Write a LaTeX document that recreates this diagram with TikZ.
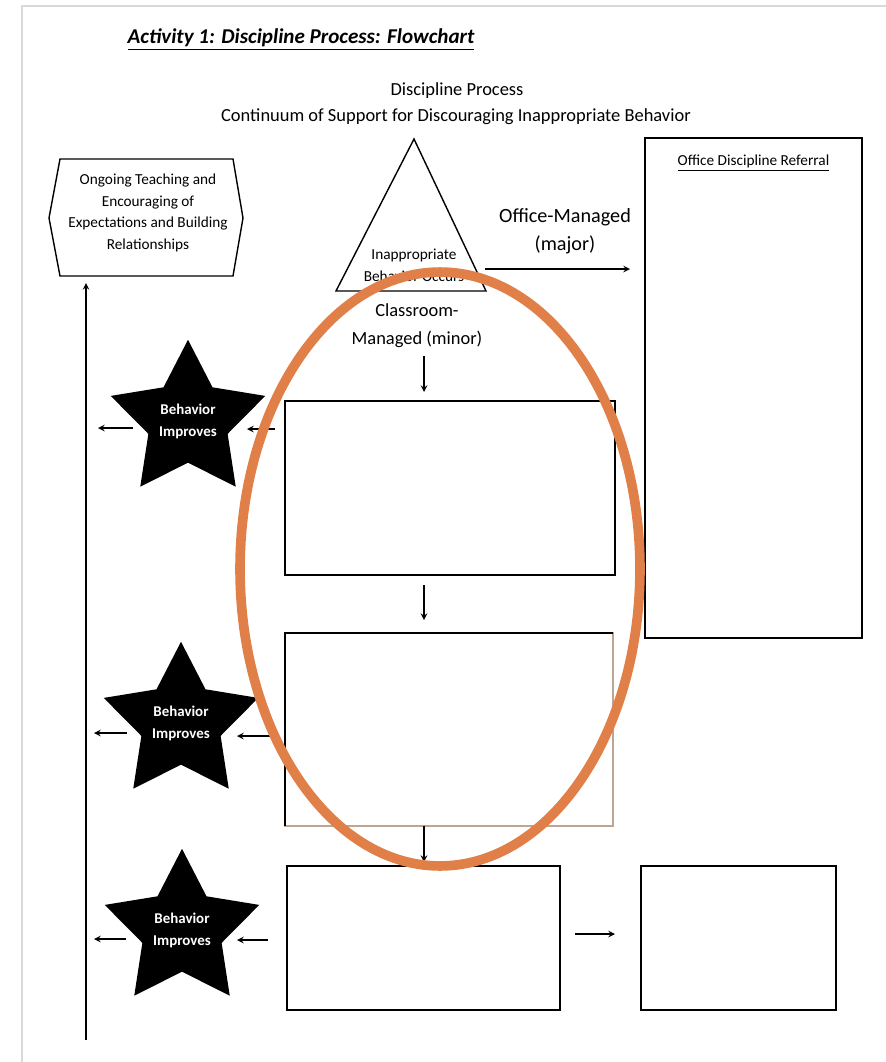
\documentclass[tikz,border=0pt]{standalone}
\usepackage{fontspec}
\setmainfont{Carlito}
\usepackage{tikz}
\usetikzlibrary{shapes.geometric}

\begin{document}
\begin{tikzpicture}[x=0.02cm, y=-0.02cm, >=stealth,
		box/.style={draw, line width=0.8pt, inner sep=0pt, outer sep=0pt},
		small/.style={font=\fontsize{8.7}{12.3}\selectfont, align=center},
		label/.style={font=\fontsize{10.5}{16}\selectfont, align=center},
		goodstar/.style={star, star points=5, star point ratio=1.95, fill=black, minimum size=3.25cm,
			inner sep=0pt, text=white, font=\fontsize{8.5}{12.5}\selectfont\bfseries, align=center},
		flow/.style={->, line width=0.7pt},
		ring/.style={draw={rgb,255:red,224;green,128;blue,72}, line width=5.5pt}]
		\useasboundingbox (0,0) rectangle (886,1062);
		% page edge
		\draw[gray!30, line width=1.5pt] (22,1062) -- (22,6) -- (886,6);
		% headings
		\node[font=\fontsize{12}{14}\selectfont\bfseries\itshape] (title) at (301,40) {\underline{Activity 1: Discipline Process: Flowchart}};
		\node[label] (head1) at (457,91) {Discipline Process};
		\node[label] (head2) at (456,117) {Continuum of Support for Discouraging Inappropriate Behavior};
		% ongoing teaching (hexagon)
		\coordinate (h1) at (49,218);
		\coordinate (h2) at (60,159);
		\coordinate (h3) at (233,159);
		\coordinate (h4) at (243,218);
		\coordinate (h5) at (233,276);
		\coordinate (h6) at (60,276);
		\draw[line width=0.8pt] (h1) -- (h2) -- (h3) -- (h4) -- (h5) -- (h6) -- cycle;
		\node[small] (ongoing) at (148,213) {Ongoing Teaching and\\Encouraging of\\Expectations and Building\\Relationships};
		\coordinate (upbot) at (86,1040);
		\coordinate (uptop) at (86,283);
		\draw[flow] (upbot) -- (uptop);
		% triangle
		\coordinate (apex) at (414,139);
		\coordinate (tl) at (336,291);
		\coordinate (tr) at (486,291);
		\draw[line width=0.8pt] (apex) -- (tr) -- (tl) -- cycle;
		\node[small] (occurs) at (414,265) {Inappropriate\\Behavior Occurs};
		% office managed
		\node[box, minimum width=4.34cm, minimum height=10cm] (odr) at (753.5,388) {};
		\node[small, anchor=north] (odrtitle) at (odr.north) [yshift=-6pt] {\underline{Office Discipline Referral}};
		\coordinate (om) at (485,269);
		\coordinate (omend) at (630,269);
		\draw[flow] (om) -- (omend);
		\node[label, font=\fontsize{11.5}{16}\selectfont] (major) at (565,231) {Office-Managed\\(major)};
		% classroom managed
		\node[label] (minor) at (417,326) {Classroom-\\Managed (minor)};
		\node[box, minimum width=6.6cm, minimum height=3.48cm] (step1) at (450,488) {};
		\node[box, draw={rgb,255:red,190;green,165;blue,145}, minimum width=6.56cm, minimum height=3.86cm] (step2) at (449,729.5) {};
		\draw[line width=0.8pt] (step2.south west) -- (step2.north west) -- (step2.north east);
		\node[box, minimum width=5.46cm, minimum height=2.88cm] (step3) at (423.5,938) {};
		\node[box, minimum width=3.9cm, minimum height=2.88cm] (step4) at (738.5,938) {};
		\coordinate (d1a) at (424,356);
		\coordinate (d1b) at (424,392);
		\coordinate (d2a) at (424,585);
		\coordinate (d2b) at (424,620);
		\coordinate (d3b) at (424,862);
		\coordinate (r1a) at (575,934);
		\coordinate (r1b) at (615,934);
		\draw[flow] (d1a) -- (d1b);
		\draw[flow] (d2a) -- (d2b);
		\draw[flow] (step2.south -| d3b) -- (d3b);
		\draw[flow] (r1a) -- (r1b);
		% behavior improves
		\node[goodstar] (star1) at (188,421) {Behavior\\Improves};
		\node[goodstar] (star2) at (181,723) {Behavior\\Improves};
		\node[goodstar] (star3) at (182,930) {Behavior\\Improves};
		\coordinate (in1) at (275,429);
		\coordinate (in2) at (270,736);
		\coordinate (in3) at (268,940);
		\coordinate (out1) at (133,428);
		\coordinate (out2) at (127,733);
		\coordinate (out3) at (126,939);
		\draw[flow] (in1) -- (247,429);
		\draw[flow] (in2) -- (237,736);
		\draw[flow] (in3) -- (237,940);
		\draw[flow] (out1) -- (98,428);
		\draw[flow] (out2) -- (94,733);
		\draw[flow] (out3) -- (94,939);
		% highlight
		\draw[ring] (440,569) ellipse [x radius=4cm, y radius=5.94cm];
	\end{tikzpicture}
\end{document}
